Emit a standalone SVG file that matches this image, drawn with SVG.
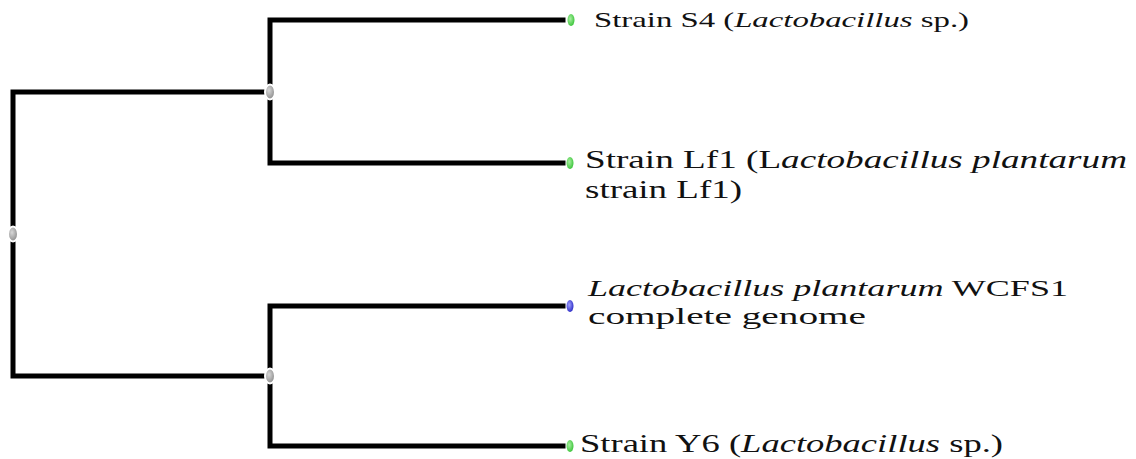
<svg xmlns="http://www.w3.org/2000/svg" width="1136" height="459" viewBox="0 0 1136 459">
<defs>
<radialGradient id="gGray" cx="0.4" cy="0.4" r="0.7"><stop offset="0" stop-color="#d8d8d8"/><stop offset="1" stop-color="#808080"/></radialGradient>
<radialGradient id="gGreen" cx="0.4" cy="0.4" r="0.7"><stop offset="0" stop-color="#a8f0a0"/><stop offset="1" stop-color="#30c030"/></radialGradient>
<radialGradient id="gBlue" cx="0.4" cy="0.4" r="0.7"><stop offset="0" stop-color="#a0a0ff"/><stop offset="1" stop-color="#2020c0"/></radialGradient>
</defs>
<style>
.br{fill:none;stroke:#000;stroke-width:5;stroke-linejoin:miter;stroke-linecap:square}
.lbl{font-family:"Liberation Serif","Times New Roman",serif;fill:#111}
.it{font-style:italic}
.inner{fill:url(#gGray);stroke:#fff;stroke-width:2}
</style>
<rect width="1136" height="459" fill="#fff"/>
<g id="connectors">
<path class="br" d="M563,20 H270 V163 H563"/>
<path class="br" d="M563,306 H270 V446 H563"/>
<path class="br" d="M268,92 H13 V376 H268"/>
</g>
<g id="root"><ellipse class="inner" cx="13" cy="234" rx="5" ry="7.5"/></g>
<g id="n1"><ellipse class="inner" cx="270" cy="92" rx="5" ry="7.5"/></g>
<g id="n2"><ellipse class="inner" cx="270" cy="376" rx="5" ry="7.5"/></g>
<g id="leafS4">
<ellipse cx="571" cy="20" rx="3.5" ry="6" fill="url(#gGreen)"/>
<text class="lbl" x="594" y="27" font-size="21" textLength="375" lengthAdjust="spacingAndGlyphs">Strain S4 (<tspan class="it">Lactobacillus</tspan> sp.)</text>
</g>
<g id="leafLf1">
<ellipse cx="570" cy="163" rx="3.5" ry="6" fill="url(#gGreen)"/>
<text class="lbl" x="585" y="168" font-size="25" textLength="542" lengthAdjust="spacingAndGlyphs">Strain Lf1 (L<tspan class="it">actobacillus plantarum</tspan></text>
<text class="lbl" x="585" y="198" font-size="25" textLength="157" lengthAdjust="spacingAndGlyphs">strain Lf1)</text>
</g>
<g id="leafWCFS1">
<ellipse cx="570" cy="306" rx="3.5" ry="6" fill="url(#gBlue)"/>
<text class="lbl" x="588" y="296" font-size="24" textLength="480" lengthAdjust="spacingAndGlyphs"><tspan class="it">Lactobacillus plantarum</tspan> WCFS1</text>
<text class="lbl" x="588" y="324" font-size="24" textLength="278" lengthAdjust="spacingAndGlyphs">complete genome</text>
</g>
<g id="leafY6">
<ellipse cx="570" cy="446" rx="3.5" ry="6" fill="url(#gGreen)"/>
<text class="lbl" x="580" y="452" font-size="25" textLength="423" lengthAdjust="spacingAndGlyphs">Strain Y6 (<tspan class="it">Lactobacillus</tspan> sp.)</text>
</g>
</svg>
